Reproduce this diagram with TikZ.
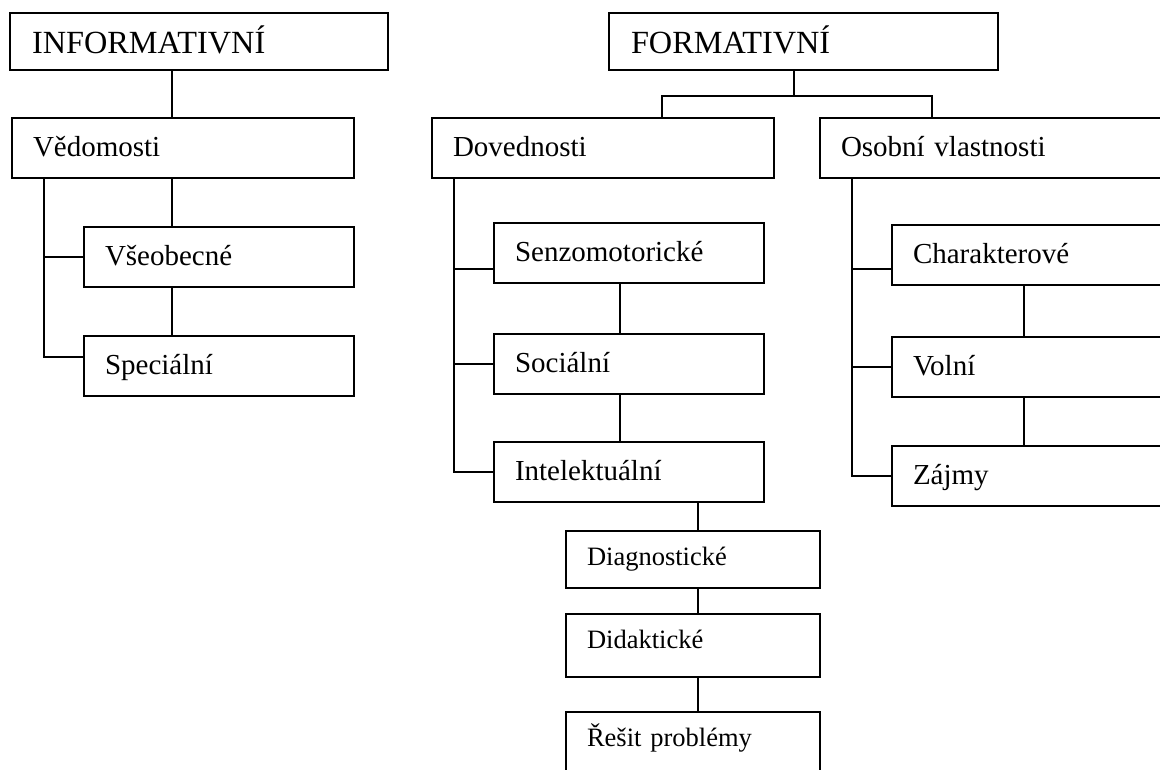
\documentclass[tikz,border=0pt]{standalone}
\usepackage{fontspec}
\setmainfont{Liberation Serif}
\usetikzlibrary{positioning}
\tikzstyle{box}=[draw,rectangle,anchor=north west,outer sep=0pt,inner ysep=0pt,align=left]
\tikzstyle{headbox}=[box,inner xsep=22pt,font=\fontsize{32.3}{37}\selectfont,text height=40pt,text depth=17pt]
\tikzstyle{block}=[box,inner xsep=21pt,font=\fontsize{29}{34}\selectfont,text width=228pt,text height=38pt,text depth=22pt]
\tikzstyle{subblock}=[box,inner xsep=21pt,font=\fontsize{26.5}{31}\selectfont,text width=212pt,text height=34pt,text depth=23pt]

\begin{document}
\begin{tikzpicture}[x=1pt,y=1pt,line width=1.9pt]
            \useasboundingbox (0,0) rectangle (1160,-769);
            \clip (0,0) rectangle (1160,-769);
            \node[headbox, text width=334pt] (info) at (10,-13) {INFORMATIVNÍ};
            \node[headbox, text width=345pt] (form) at (609,-13) {FORMATIVNÍ};
            \node[block, text width=300pt] (vedom) at (12,-118) {Vědomosti};
            \node[block, text width=300pt] (doved) at (432,-118) {Dovednosti};
            \node[block, text width=320pt] (osob) at (820,-118) {Osobní vlastnosti};
            \node[block] (vseob) at (84,-227) {Všeobecné};
            \node[block, below=49pt of vseob] (spec) {Speciální};
            \node[block] (senzo) at (494,-223) {Senzomotorické};
            \node[block, below=51pt of senzo] (soc) {Sociální};
            \node[block, below=48pt of soc] (intel) {Intelektuální};
            \node[block, text width=250pt] (charakt) at (892,-225) {Charakterové};
            \node[block, text width=250pt, below=52pt of charakt] (voln) {Volní};
            \node[block, text width=250pt, below=49pt of voln] (zajm) {Zájmy};
            \node[subblock] (diag) at (566,-531) {Diagnostické};
            \node[subblock, text depth=29pt, below=26pt of diag] (didak) {Didaktické};
            \node[subblock, text depth=45pt, below=35pt of didak] (resit) {Řešit problémy};
            \coordinate (fsplit) at (794,-96);
            \draw (info.south -| 172,0) -- (vedom.north -| 172,0);
            \draw (vedom.south -| 172,0) -- (vseob.north -| 172,0);
            \draw (vseob.south -| 172,0) -- (spec.north -| 172,0);
            \draw (vedom.south -| 44,0) |- (vseob.west);
            \draw (vedom.south -| 44,0) |- ([yshift=9pt]spec.west);
            \draw (form.south -| fsplit) -- (fsplit);
            \draw (doved.north -| 662,0) |- (fsplit) -| (osob.north -| 932,0);
            \draw (doved.south -| 454,0) |- ([yshift=-16pt]senzo.west);
            \draw (doved.south -| 454,0) |- (soc.west);
            \draw (doved.south -| 454,0) |- (intel.west);
            \draw (senzo.south -| 620,0) -- (soc.north -| 620,0);
            \draw (soc.south -| 620,0) -- (intel.north -| 620,0);
            \draw (intel.south -| 698,0) -- (diag.north -| 698,0);
            \draw (diag.south -| 698,0) -- (didak.north -| 698,0);
            \draw (didak.south -| 698,0) -- (resit.north -| 698,0);
            \draw (osob.south -| 852,0) |- ([yshift=-14pt]charakt.west);
            \draw (osob.south -| 852,0) |- (voln.west);
            \draw (osob.south -| 852,0) |- (zajm.west);
            \draw (charakt.south -| 1024,0) -- (voln.north -| 1024,0);
            \draw (voln.south -| 1024,0) -- (zajm.north -| 1024,0);
        \end{tikzpicture}
\end{document}
